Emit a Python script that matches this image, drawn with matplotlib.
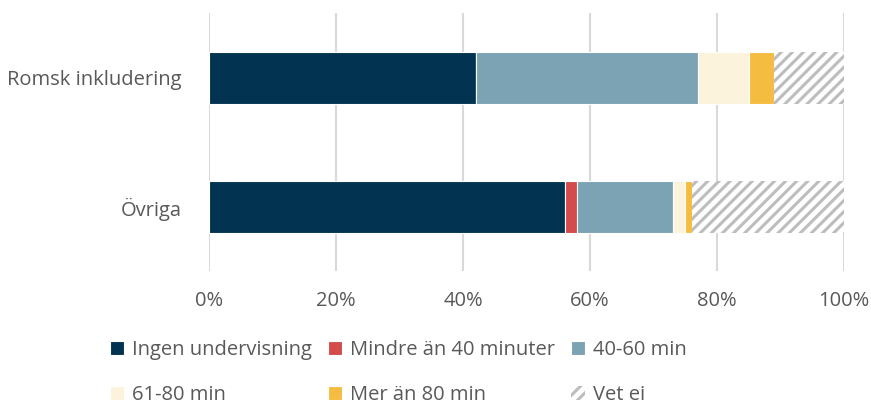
import matplotlib.pyplot as plt
import numpy as np

plt.rcParams['font.family'] = ['Open Sans', 'DejaVu Sans']
plt.rcParams['hatch.linewidth'] = 2.2

# data (percent)
groups = ['Övriga', 'Romsk inkludering']
labels = ['Ingen undervisning', 'Mindre än 40 minuter', '40-60 min',
          '61-80 min', 'Mer än 80 min', 'Vet ei']
ingen = [56, 42]
mindre40 = [2, 0]
min40_60 = [15, 35]
min61_80 = [2, 8]
mer80 = [1, 4]
vet_ej = [24, 11]

colors = ['#023350', '#D34B4B', '#7BA3B3', '#FCF3DC', '#F4BC41', 'white']

fig = plt.figure(figsize=(8.71, 4.07), dpi=100)
ax = fig.add_axes([0.24, 0.333, 0.729, 0.634])

series = [ingen, mindre40, min40_60, min61_80, mer80, vet_ej]
y = np.arange(len(groups))
left = np.zeros(len(groups))
for vals, lab, col in zip(series, labels, colors):
    if lab == 'Vet ei':
        ax.barh(y, vals, left=left, height=0.4, color=col, edgecolor='#BDBDBD',
                hatch='///', linewidth=0, label=lab, zorder=3)
    else:
        ax.barh(y, vals, left=left, height=0.4, color=col, edgecolor='white',
                linewidth=0.8, label=lab, zorder=3)
    left += np.array(vals)

ax.set_xlim(0, 100)
ax.set_ylim(-0.5, 1.5)
ax.set_xticks(range(0, 101, 20))
ax.set_xticklabels([f'{v}%' for v in range(0, 101, 20)])
ax.set_yticks(y)
ax.set_yticklabels(groups)
ax.xaxis.grid(True, color='#D9D9D9', linewidth=1.5, zorder=0)
for s in ax.spines.values():
    s.set_visible(False)
ax.tick_params(length=0, labelsize=14.5, colors='#595959')
ax.tick_params(axis='y', pad=20)
ax.tick_params(axis='x', pad=14)

# legend filled row by row
handles, hl = ax.get_legend_handles_labels()
order = [0, 3, 1, 4, 2, 5]
fig.legend([handles[i] for i in order], [hl[i] for i in order],
           loc='lower left', bbox_to_anchor=(0.105, -0.04), ncol=3,
           frameon=False, fontsize=14.5, labelcolor='#595959',
           handlelength=0.7, handleheight=0.7, handletextpad=0.4,
           columnspacing=0.8, labelspacing=1.25)

fig.savefig('out.png', dpi=100)
